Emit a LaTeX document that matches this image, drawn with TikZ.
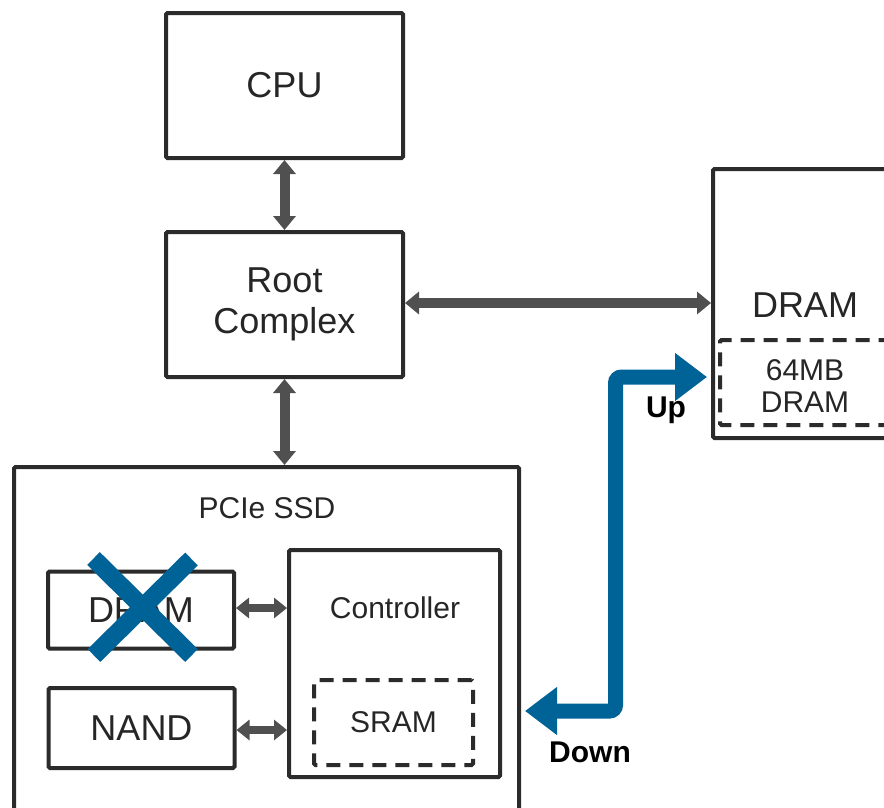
\documentclass[tikz,border=0pt]{standalone}
\usepackage{fontspec}
\setmainfont{Liberation Sans}
\usetikzlibrary{arrows.meta,calc}
\definecolor{boxline}{HTML}{2B2B2B}
\definecolor{txt}{HTML}{262626}
\definecolor{arrowgray}{HTML}{505050}
\definecolor{pblue}{HTML}{006397}
\tikzset{
  box/.style={draw=boxline, line width=4pt, rounded corners=1.5pt, fill=white, inner sep=0pt, text=txt, align=center},
  dashbox/.style={draw=boxline, line width=4pt, dash pattern=on 14pt off 9pt, rounded corners=1.5pt, inner sep=0pt, text=txt, align=center},
  lbl/.style={text=txt, inner sep=0pt, align=center},
  dbl/.style={draw=arrowgray, line width=10pt, {Triangle[width=22pt,length=14pt]}-{Triangle[width=22pt,length=14pt]}},
  dbls/.style={draw=arrowgray, line width=8pt, {Triangle[width=20pt,length=13pt]}-{Triangle[width=20pt,length=13pt]}},
  bluearrow/.style={draw=pblue, line width=15pt, rounded corners=6pt, {Triangle[width=46pt,length=32pt]}-{Triangle[width=46pt,length=32pt]}},
  cross/.style={draw=pblue, line width=18pt, line cap=butt},
  bold/.style={text=black, inner sep=0pt, font=\fontsize{30}{34}\selectfont\bfseries}
}
\begin{document}
\begin{tikzpicture}[x=1pt,y=-1pt]
\useasboundingbox (0,0) rectangle (884,807);
\clip (0,0) rectangle (884,807);
\fill[white] (0,0) rectangle (884,807);
% top boxes
\node[box, minimum width=237, minimum height=145, font=\fontsize{36}{41}\selectfont] (cpu) at (284.5,85.5) {CPU};
\node[box, minimum width=237, minimum height=145, font=\fontsize{36}{41}\selectfont] (rc) at (284.5,304.5) {Root\\Complex};
% host DRAM (clipped on the right)
\node[box, minimum width=260, minimum height=269] (hdram) at (843,303.5) {};
\node[lbl, font=\fontsize{36}{41}\selectfont] (hdramtxt) at (805,305) {DRAM};
\node[dashbox, minimum width=220, minimum height=85, font=\fontsize{30}{32}\selectfont] (hmb) at (830,382.5) {};
\node[lbl, font=\fontsize{30}{32}\selectfont] (hmbtxt) at (805,386) {64MB\\DRAM};
% SSD
\node[box, minimum width=505, minimum height=380] (ssd) at (266.5,657) {};
\node[lbl, font=\fontsize{30}{34}\selectfont] (ssdtxt) at (267,508) {PCIe SSD};
\node[box, minimum width=186, minimum height=77, font=\fontsize{36}{41}\selectfont] (idram) at (141,610) {DRAM};
\node[box, minimum width=186, minimum height=80, font=\fontsize{36}{41}\selectfont] (nand) at (141.5,728) {NAND};
\node[box, minimum width=211, minimum height=227] (ctrl) at (394.5,663.5) {};
\node[lbl, font=\fontsize{30}{34}\selectfont] (ctrltxt) at (395,608) {Controller};
\node[dashbox, minimum width=159, minimum height=85, font=\fontsize{30}{34}\selectfont] (sram) at (393.5,722.5) {SRAM};
% gray connectors
\draw[dbl] (cpu.south) -- (rc.north);
\draw[dbl] (rc.south) -- (rc.south |- ssd.north);
\draw[dbl] ($(rc.east)+(0,-1.5)$) -- ($(rc.east -| hdram.west)+(0,-1.5)$);
\draw[dbls] ($(idram.east)+(0,-2)$) -- ($(idram.east -| ctrl.west)+(0,-2)$);
\draw[dbls] ($(nand.east)+(0,2)$) -- ($(nand.east -| ctrl.west)+(0,2)$);
% cross over SSD DRAM
\draw[cross] (93.5,558.5) -- (191.5,655.5);
\draw[cross] (191.5,559) -- (94,655.5);
% blue up/down path
\coordinate (downtip) at (525,711);
\coordinate (uptip) at (707,377);
\draw[bluearrow] (downtip) -- (615.5,711) -- (615.5,377) -- (uptip);
\node[bold] (uplbl) at (666,410) {Up};
\node[bold] (downlbl) at (590,752) {Down};
\end{tikzpicture}
\end{document}
